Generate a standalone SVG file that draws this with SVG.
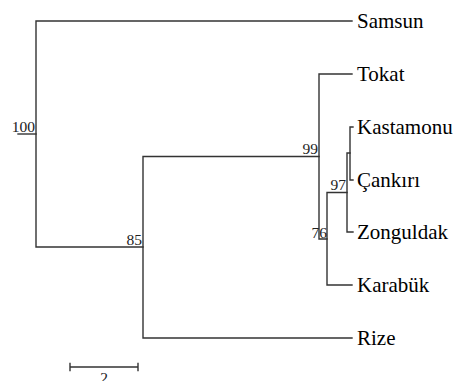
<svg xmlns="http://www.w3.org/2000/svg" width="458" height="381" viewBox="0 0 458 381">
<style>
.br{fill:none;stroke:#333;stroke-width:1.4;stroke-linecap:square}
.leaf{font-family:"Liberation Serif","Times New Roman",serif;font-size:21px;fill:#000}
.bs{font-family:"Liberation Serif","Times New Roman",serif;font-size:15.5px;fill:#222;text-anchor:end}
</style>
<rect width="458" height="381" fill="#fff"/>
<g id="connectors" class="br">
<path d="M18,134 H36"/>
<path d="M352,21 H36 V247 H143"/>
<path d="M319,156.5 H143 V338 H352"/>
<path d="M352,74 H319 V239 H327"/>
<path d="M347,192.5 H327 V285 H352"/>
<path d="M350,153 H347 V232 H353"/>
<path d="M353,127 H350 V180 H353"/>
</g>
<g id="support">
<text class="bs" x="35" y="132">100</text>
<text class="bs" x="142" y="245">85</text>
<text class="bs" x="318" y="154">99</text>
<text class="bs" x="346" y="190">97</text>
<text class="bs" x="327" y="238">76</text>
</g>
<g id="Samsun"><text class="leaf" x="357" y="28">Samsun</text></g>
<g id="Tokat"><text class="leaf" x="357" y="81">Tokat</text></g>
<g id="Kastamonu"><text class="leaf" x="357" y="134">Kastamonu</text></g>
<g id="Cankiri"><text class="leaf" x="357" y="187">Çankırı</text></g>
<g id="Zonguldak"><text class="leaf" x="357" y="239">Zonguldak</text></g>
<g id="Karabuk"><text class="leaf" x="357" y="292">Karabük</text></g>
<g id="Rize"><text class="leaf" x="357" y="345">Rize</text></g>
<g id="scale">
<path class="br" d="M70,367 H138 M70,363.5 V370.5 M138,363.5 V370.5"/>
<text class="bs" style="text-anchor:middle" x="104" y="383">2</text>
</g>
</svg>
